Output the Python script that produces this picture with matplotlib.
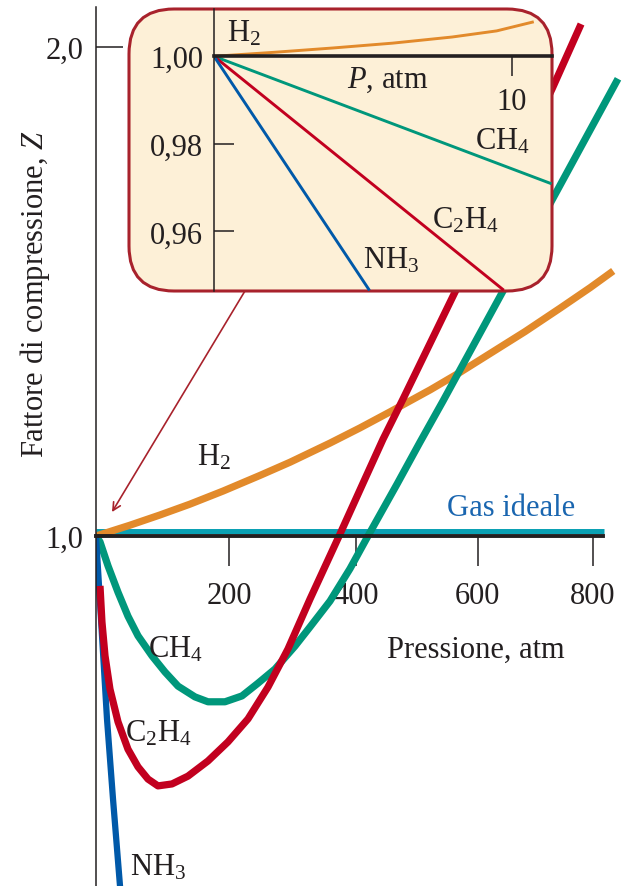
import numpy as np
import matplotlib
matplotlib.use("Agg")
import matplotlib.pyplot as plt
from matplotlib.patches import FancyBboxPatch
from matplotlib.transforms import IdentityTransform, offset_copy


# main chart: pressure (atm) vs compression factor Z
h2_p = [0, 50, 95, 140, 191, 248, 295, 358, 406, 455, 521, 571, 621, 681,
        742, 795, 836]
h2_z = [1.000, 1.022, 1.043, 1.065, 1.092, 1.124, 1.151, 1.190, 1.221,
        1.254, 1.299, 1.335, 1.373, 1.418, 1.466, 1.508, 1.542]

ch4_p = [0, 5.9, 17.7, 32.5, 47.3, 62.2, 83.1, 102.6, 122.3, 148, 167.8,
         193.8, 220, 244.8, 271.3, 302.7, 326.3, 358.1, 390, 419, 466.2,
         504, 542.1, 643.3, 727.8, 844.6]
ch4_z = [1.000, 0.988, 0.939, 0.885, 0.836, 0.796, 0.755, 0.722, 0.693,
         0.671, 0.661, 0.661, 0.673, 0.699, 0.728, 0.775, 0.814, 0.867,
         0.933, 1.000, 1.106, 1.192, 1.276, 1.501, 1.687, 1.935]

c2h4_p = [5.9, 8.8, 13.3, 20.6, 32.5, 47.3, 62.2, 77.1, 92.1, 113.2, 137.4,
          167.8, 198.4, 229.3, 260.3, 291.6, 326.3, 374, 411, 443.4, 476,
          562.2, 727.8, 778.8]
c2h4_z = [0.898, 0.824, 0.755, 0.687, 0.620, 0.564, 0.528, 0.503, 0.489,
          0.493, 0.509, 0.540, 0.579, 0.626, 0.691, 0.769, 0.871, 1.004,
          1.108, 1.198, 1.280, 1.499, 1.914, 2.047]

nh3_p = [0, 7.4, 16.2, 25.1, 36.3]
nh3_z = [1.000, 0.830, 0.626, 0.462, 0.270]

ideal_p = [0, 820]
ideal_z = [1.0, 1.0]

x_ticks = [200, 400, 600, 800]
x_labels = ["200", "400", "600", "800"]
y_ticks = [1.0, 2.0]
y_labels = ["1,0", "2,0"]

# inset: low pressure region
in_h2_p = [0, 2, 4, 6, 8, 9.5, 10.7]
in_h2_z = [1.0, 1.0009, 1.0019, 1.0030, 1.0044, 1.0058, 1.0078]
in_ch4_p = [0, 11.3]
in_ch4_z = [1.0, 0.971]
in_c2h4_p = [0, 9.7]
in_c2h4_z = [1.0, 0.9468]
in_nh3_p = [0, 5.2]
in_nh3_z = [1.0, 0.9468]

in_x_ticks = [10]
in_y_ticks = [0.96, 0.98, 1.00]
in_y_labels = ["0,96", "0,98", "1,00"]

ORANGE = "#E28A2B"
RED = "#C2001F"
GREEN = "#00977B"
BLUE = "#0059A9"
TEAL = "#0BA1B4"
INK = "#231F20"
FRAME = "#A8222C"

plt.rcParams["font.family"] = ["Liberation Serif", "DejaVu Serif"]
plt.rcParams["mathtext.fontset"] = "custom"
plt.rcParams["mathtext.rm"] = "Liberation Serif"
plt.rcParams["mathtext.it"] = "Liberation Serif:italic"
plt.rcParams["mathtext.bf"] = "Liberation Serif:bold"
plt.rcParams["text.color"] = INK
FS = 22

W, H = 627, 887
K = 1.0727e-4  # the drawn pressure axis is slightly compressed


def fwd(p):
    p = np.asarray(p, dtype=float)
    return p - K * p ** 2


def inv(f):
    f = np.asarray(f, dtype=float)
    return (1 - np.sqrt(np.maximum(1 - 4 * K * f, 0))) / (2 * K)


def ftext(x, y, s, **kw):
    # x, y in pixels from the top-left corner
    return fig.text(x / W, 1 - y / H, s, fontsize=FS, **kw)


fig = plt.figure(figsize=(W / 100, H / 100), dpi=100)

ax = fig.add_axes([96 / W, 0, 531 / W, 879 / H])
ax.set_xscale("function", functions=(fwd, inv))
ax.set_xlim(0, 860.8)
ax.set_ylim(0.2843, 2.0818)
ax.patch.set_visible(False)

ax.plot(ideal_p, ideal_z, color=TEAL, lw=3.6, solid_capstyle="butt",
        transform=offset_copy(ax.transData, fig=fig, y=5, units="dots"),
        zorder=1.9)
curve = dict(lw=5.2, solid_capstyle="butt", solid_joinstyle="round")
ax.plot(h2_p, h2_z, color=ORANGE, zorder=2, **curve)
ax.plot(ch4_p, ch4_z, color=GREEN, zorder=2, **curve)
ax.plot(c2h4_p, c2h4_z, color=RED, zorder=2.1, **curve)
ax.plot(nh3_p, nh3_z, color=BLUE, lw=4.5, zorder=2, solid_capstyle="butt")

for s in ["top", "right"]:
    ax.spines[s].set_visible(False)
ax.spines["left"].set_linewidth(1.1)
ax.spines["left"].set_color(INK)
ax.spines["bottom"].set_position(("data", 1.0))
ax.spines["bottom"].set_bounds(0, 818)
ax.spines["bottom"].set_linewidth(2.8)
ax.spines["bottom"].set_color(INK)

ax.set_xticks(x_ticks)
ax.set_xticklabels(x_labels)
ax.set_yticks(y_ticks)
ax.set_yticklabels(y_labels)
ax.xaxis.set_minor_locator(matplotlib.ticker.NullLocator())
ax.tick_params(axis="x", direction="out", length=21.6, width=1.1,
               color=INK, pad=11, labelsize=FS, labelcolor=INK)
ax.tick_params(axis="y", direction="in", length=19.5, width=1.1,
               color=INK, pad=9, labelsize=FS, labelcolor=INK)

# inset frame and axes
frame = FancyBboxPatch((129, H - 292), 423, 282,
                       boxstyle="round,pad=0,rounding_size=45",
                       transform=IdentityTransform(),
                       facecolor="#FDF0D7", edgecolor=FRAME, lw=2.2,
                       zorder=1)
fig.add_artist(frame)

ins = fig.add_axes([214 / W, (H - 292) / H, 338 / W, 282 / H], zorder=2)
ins.set_xlim(0, 11.36)
ins.set_ylim(0.9464, 1.0108)
ins.patch.set_visible(False)
for s in ["top", "right"]:
    ins.spines[s].set_visible(False)
ins.spines["left"].set_linewidth(1.1)
ins.spines["left"].set_color(INK)
ins.spines["bottom"].set_position(("data", 1.0))
ins.spines["bottom"].set_linewidth(2.6)
ins.spines["bottom"].set_color(INK)

for xs, zs, c in [(in_h2_p, in_h2_z, ORANGE), (in_ch4_p, in_ch4_z, GREEN),
                  (in_c2h4_p, in_c2h4_z, RED), (in_nh3_p, in_nh3_z, BLUE)]:
    ln, = ins.plot(xs, zs, color=c, lw=2.1, zorder=2)
    ln.set_clip_path(frame)

ins.set_xticks(in_x_ticks)
ins.set_xticklabels(["10"])
ins.set_yticks(in_y_ticks)
ins.set_yticklabels(in_y_labels)
ins.tick_params(axis="x", direction="out", length=14.4, width=1.1,
                color=INK, pad=8, labelsize=FS, labelcolor=INK)
ins.tick_params(axis="y", direction="in", length=14.4, width=1.1,
                color=INK, pad=8, labelsize=FS, labelcolor=INK)

# arrow from the inset down to the origin of the main plot
ax.annotate("", xy=(23.6, 1.049), xycoords="data",
            xytext=(1.04, 0.9464), textcoords=ins.transData,
            arrowprops=dict(arrowstyle="->", color=FRAME, lw=1.2,
                            mutation_scale=14, shrinkA=0, shrinkB=0),
            zorder=1.5)

# labels
ftext(35, 294, "Fattore di compressione, $Z$", rotation=90,
      ha="center", va="center")
ftext(387, 650, "Pressione, atm", ha="left", va="center")
ftext(447, 508, "Gas ideale", ha="left", va="center", color="#1A66B0")
ftext(197, 458, "H$_2$", ha="left", va="center")
ftext(148, 650, "CH$_4$", ha="left", va="center")
ftext(125, 734, "C$_2$H$_4$", ha="left", va="center")
ftext(130, 868, "NH$_3$", ha="left", va="center")

ftext(227, 34, "H$_2$", ha="left", va="center", zorder=3)
ftext(388, 80, "$P$, atm", ha="center", va="center", zorder=3)
ftext(475, 142, "CH$_4$", ha="left", va="center", zorder=3)
ftext(432, 221, "C$_2$H$_4$", ha="left", va="center", zorder=3)
ftext(363, 261, "NH$_3$", ha="left", va="center", zorder=3)

fig.savefig("out.png", dpi=100)
